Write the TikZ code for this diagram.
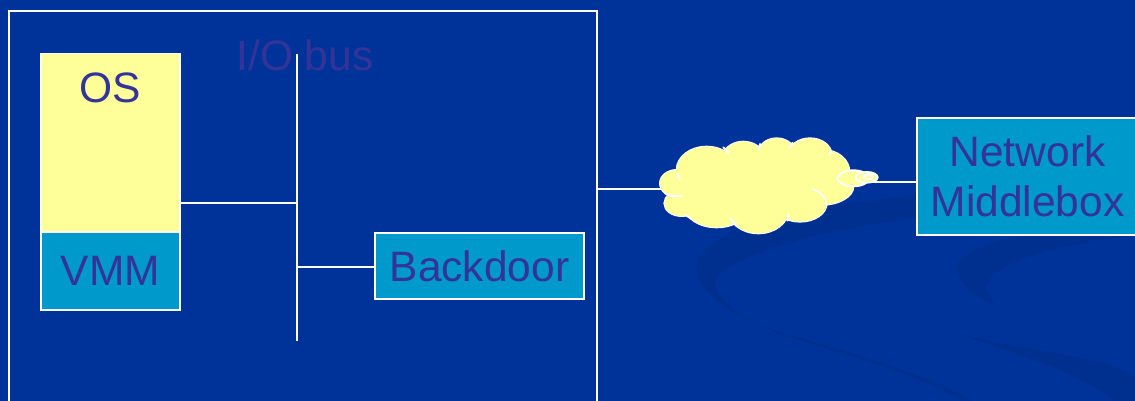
\documentclass[tikz,border=0pt]{standalone}
\usepackage{fontspec}
\setmainfont{Liberation Sans}
\definecolor{slidebg}{HTML}{003399}
\definecolor{swoosh}{HTML}{00308F}
\definecolor{labelblue}{HTML}{333399}
\definecolor{boxblue}{HTML}{0099CC}
\definecolor{paleyellow}{HTML}{FFFF99}
\tikzset{
  wire/.style={draw=white,line width=1.1pt},
  box/.style={rectangle,draw=white,line width=1.1pt,inner sep=0pt,text=labelblue,font=\fontsize{24.2}{28.4}\selectfont,align=center},
}
\begin{document}
\begin{tikzpicture}[x=.02cm,y=-.02cm]
        \clip (0,0) rectangle (1135,401);
        \fill[slidebg] (0,0) rectangle (1135,401);

        \fill[swoosh] (917,195) .. controls (880,199) and (850,203) .. (813,208)
        .. controls (760,215) and (697,240) .. (697,267)
        .. controls (697,295) and (730,315) .. (780,332)
        .. controls (850,352) and (930,375) .. (972,401) -- (962,401)
        .. controls (925,378) and (850,356) .. (780,334)
        .. controls (750,322) and (710,300) .. (716,280)
        .. controls (722,262) and (800,232) .. (917,218) -- cycle;
        \fill[swoosh] (1135,233) -- (1040,233) .. controls (990,240) and (950,255) .. (957,273)
        .. controls (965,290) and (985,302) .. (1002,309)
        .. controls (990,298) and (983,290) .. (988,282)
        .. controls (1000,260) and (1060,245) .. (1135,235) -- cycle;
        \fill[swoosh] (947,330) .. controls (1010,350) and (1110,355) .. (1135,378) -- (1135,401) -- (1113,401)
        .. controls (1080,370) and (1000,350) .. (947,330) -- cycle;

        \draw (305,55) node[text=labelblue,font=\fontsize{24.2}{28.4}\selectfont] (busname) {I/O bus};

        \coordinate (frameSW) at (9,402);
        \coordinate (frameNW) at (9,11);
        \coordinate (frameNE) at (597,11);
        \coordinate (frameSE) at (597,402);
        \draw[wire] (frameSW)--(frameNW)--(frameNE)--(frameSE);

        \draw (110.5,143) node[box,fill=paleyellow,minimum width=2.79cm,minimum height=3.58cm] (os) {};
        \draw (110.5,88) node[text=labelblue,font=\fontsize{24.2}{28.4}\selectfont] (osname) {OS};
        \draw (110.5,271) node[box,fill=boxblue,minimum width=2.79cm,minimum height=1.56cm] (vmm) {VMM};
        \draw (479.5,266) node[box,fill=boxblue,minimum width=4.18cm,minimum height=1.32cm] (backdoor) {Backdoor};
        \draw (1027.5,176.5) node[box,fill=boxblue,minimum width=4.42cm,minimum height=2.34cm] (middlebox) {Network\\Middlebox};

        \coordinate (busN) at (297,54);
        \coordinate (busS) at (297,341);
        \coordinate (busA) at (297,203);
        \coordinate (busB) at (297,267);
        \coordinate (frameE) at (597,189);
        \coordinate (cloudW) at (665,189);
        \coordinate (cloudE) at (870,182);
        \draw[wire] (busN)--(busS);
        \draw[wire] (os.east |- busA)--(busA);
        \draw[wire] (busB)--(backdoor.west |- busB);
        \draw[wire] (frameE)--(cloudW);
        \draw[wire] (cloudE)--(middlebox.west |- cloudE);

        \begin{scope}[shift={(640,110)},x=.02cm/3,y=-.02cm/3]
        \foreach \cx/\cy/\rx/\ry in {110/220/50/40,125/280/52/38,200/180/90/70,310/150/65/55,410/130/55/45,510/135/65/50,550/185/78/65,540/230/100/55,480/280/80/55,355/300/90/70,230/290/95/62}
          \draw[wire,fill=paleyellow] (\cx,\cy) ellipse [x radius=\rx,y radius=\ry];
        \foreach \cx/\cy/\rx/\ry in {110/220/50/40,125/280/52/38,200/180/90/70,310/150/65/55,410/130/55/45,510/135/65/50,550/185/78/65,540/230/100/55,480/280/80/55,355/300/90/70,230/290/95/62,340/220/220/80}
          \fill[paleyellow] (\cx,\cy) ellipse [x radius=\rx,y radius=\ry];
        \draw[wire,line cap=round] (518,237) .. controls (545,248) and (562,268) .. (560,285);
        \draw[wire,line cap=round] (75,250) .. controls (90,258) and (105,260) .. (125,258);
        \draw[wire,line cap=round] (112,190) .. controls (114,198) and (116,205) .. (120,210);
        \draw[wire,line cap=round] (250,112) .. controls (258,118) and (262,124) .. (266,130);
        \draw[wire,line cap=round] (360,102) .. controls (358,108) and (357,112) .. (356,118);
        \draw[wire,line cap=round] (458,98) .. controls (455,103) and (452,108) .. (450,112);
        \draw[wire,line cap=round] (575,125) .. controls (573,128) and (571,131) .. (568,133);
        \draw[wire,line cap=round] (135,315) .. controls (140,318) and (148,322) .. (155,327);
        \draw[wire,line cap=round] (270,325) .. controls (276,332) and (282,338) .. (288,342);
        \draw[wire,line cap=round] (445,312) .. controls (445,320) and (445,326) .. (442,332);
        \draw[wire,fill=paleyellow] (640,205) ellipse [x radius=47,y radius=24];
        \draw[wire,fill=paleyellow] (680,202) ellipse [x radius=33,y radius=16];
        \draw[wire,fill=paleyellow] (685,200) ellipse [x radius=15,y radius=7];
        \end{scope}
    \end{tikzpicture}
\end{document}
